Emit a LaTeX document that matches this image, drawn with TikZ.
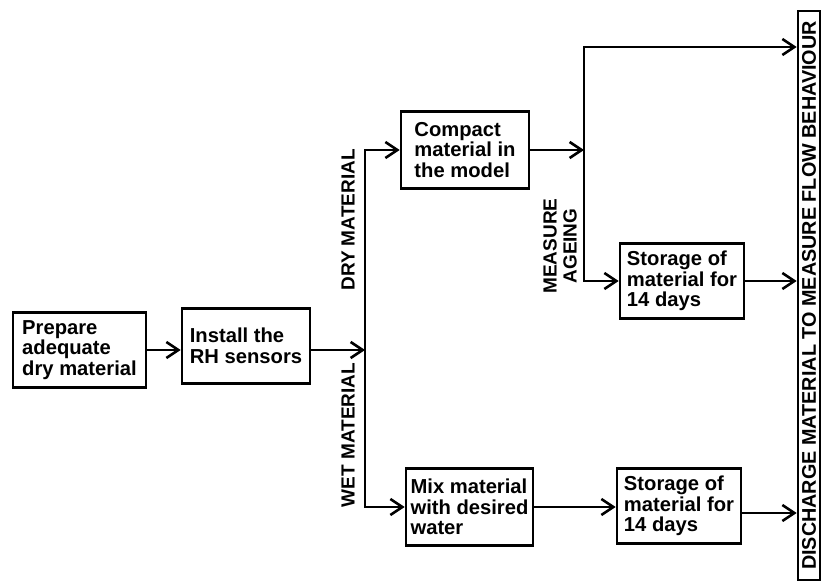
\documentclass[tikz,border=0pt]{standalone}
\usepackage{fontspec}
\setmainfont{Liberation Sans}
\usetikzlibrary{arrows.meta}
\newcommand{\flowfont}{\fontsize{20.2}{20.5}\selectfont\bfseries}
\newcommand{\labelfont}{\fontsize{19}{20}\selectfont\bfseries}
\tikzset{
  procbox/.style={draw, line width=2.6pt, minimum width=#1, minimum height=75pt,
    inner sep=0pt, align=left, font=\flowfont},
  procbox/.default=128pt,
  flowline/.style={line width=2.6pt},
  sidelabel/.style={rotate=90, align=center, inner sep=0pt, font=\labelfont},
}

\begin{document}
\begin{tikzpicture}[x=1pt, y=-1pt, >={Straight Barb[length=12pt,width=16pt]}]
\useasboundingbox (0,0) rectangle (822,588);
% process boxes
\node[procbox=133pt] (prep) at (79.5,350) {Prepare\\adequate\\dry material};
\node[procbox] (rh) at (246,346) {Install the\\RH sensors};
\node[procbox, minimum height=77pt] (compact) at (465,150) {Compact\\material in\\the model};
\node[procbox=124pt] (storeA) at (682,281) {Storage of\\material for\\14 days};
\node[procbox=127pt, minimum height=77pt] (mix) at (469.5,507) {Mix material\\with desired\\water};
\node[procbox=124pt] (storeB) at (679,506) {Storage of\\material for\\14 days};
\node[draw, line width=2.6pt, rotate=90, minimum width=569pt, minimum height=22pt,
  inner sep=0pt, font=\fontsize{19.8}{20}\selectfont\bfseries] (out) at (809,295.5)
  {DISCHARGE MATERIAL TO MEASURE FLOW BEHAVIOUR};
% branch labels
\node[sidelabel] (dry) at (348,220) {DRY MATERIAL};
\node[sidelabel] (wet) at (348,435) {WET MATERIAL};
\node[sidelabel] (ageing) at (560,246) {MEASURE\\AGEING};
% connectors
\coordinate (split) at (365,350);
\coordinate (age) at (584,150);
\draw[flowline,->] (prep.east |- split) -- (rh.west |- split);
\draw[flowline,->] (rh.east |- split) -- (split);
\draw[flowline,->] (split) |- (compact.west);
\draw[flowline,->] (split) |- (mix.west);
\draw[flowline,->] (compact.east) -- (age);
\draw[flowline,->] (age) |- (out.north |- 0,47);
\draw[flowline,->] (age) |- (storeA.west);
\draw[flowline,->] (storeA.east) -- (storeA.east -| out.north);
\draw[flowline,->] (mix.east) -- (mix.east -| storeB.west);
\draw[flowline,->] ([yshift=-7pt]storeB.east) -- ([yshift=-7pt]storeB.east -| out.north);
\end{tikzpicture}
\end{document}
